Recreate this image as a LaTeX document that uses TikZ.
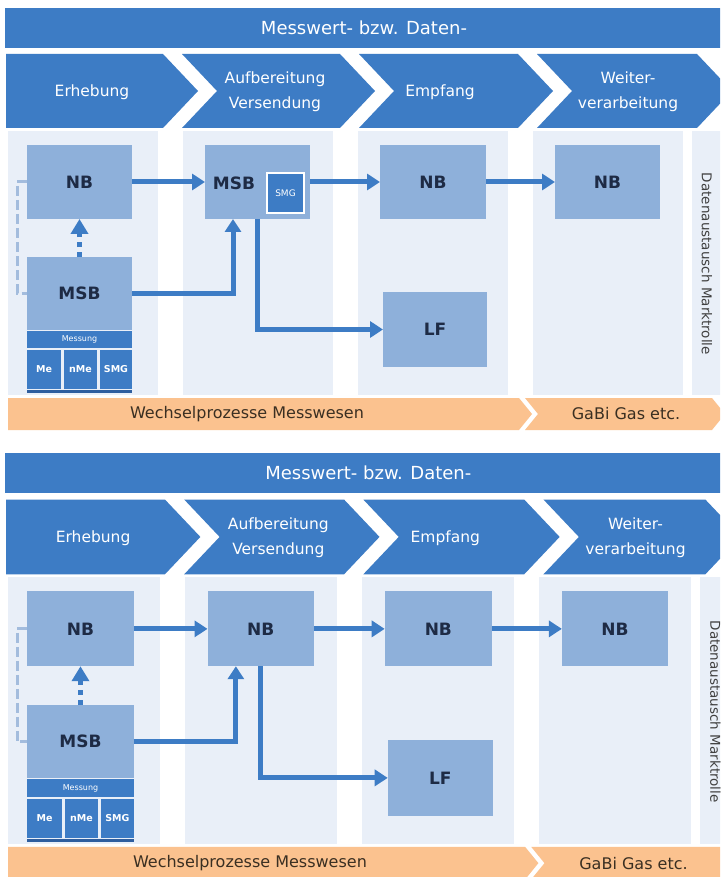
\documentclass[tikz,border=0pt]{standalone}
\usepackage{fontspec}
\setmainfont{DejaVu Sans}
\usetikzlibrary{arrows.meta,fit,calc}
\definecolor{hdrblue}{HTML}{3D7CC5}
\definecolor{colbg}{HTML}{E9EFF8}
\definecolor{boxblue}{HTML}{8EB0DA}
\definecolor{dashblue}{HTML}{A3BCDD}
\definecolor{orangebar}{HTML}{FBC28F}
\definecolor{navytext}{HTML}{1E2B45}
\definecolor{browntext}{HTML}{3A2F22}
\definecolor{linenavy}{HTML}{2F5E9E}
\tikzset{
  hdrtext/.style={text=white, font=\fontsize{18}{20}\selectfont, inner sep=0pt},
  chevtext/.style={text=white, font=\fontsize{15.5}{25}\selectfont, align=center, inner sep=0pt},
  orangetext/.style={text=browntext, font=\fontsize{16}{18}\selectfont, inner sep=0pt},
  sidetext/.style={text=black!75, font=\fontsize{13.5}{15}\selectfont, rotate=-90, inner sep=0pt},
  rolebox/.style={fill=boxblue, inner sep=0pt, outer sep=0pt},
  rolelabel/.style={text=navytext, font=\bfseries\fontsize{17}{19}\selectfont, inner sep=0pt},
  darkbox/.style={fill=hdrblue, inner sep=0pt, outer sep=0pt},
  darklabel/.style={text=white, font=\bfseries\fontsize{9.5}{11}\selectfont, inner sep=0pt},
  smallbox/.style={fill=hdrblue, draw=white, line width=2pt, inner sep=0pt},
  smalllabel/.style={text=white, font=\fontsize{9}{10}\selectfont, inner sep=0pt},
  flow/.style={draw=hdrblue, line width=5pt, -{Triangle[length=13pt,width=16pt]}},
  dotflow/.style={draw=hdrblue, line width=5pt, dash pattern=on 5pt off 5pt, -{Triangle[length=15pt,width=17pt]}},
  bracket/.style={draw=dashblue, line width=3pt, dash pattern=on 10pt off 4pt},
}
\newcommand\drawpanel[1]{%
  % header bar
  \fill[hdrblue] (5,8) rectangle (725,48);
  \node[hdrtext] (#1title) at (364,28) {Messwert- bzw. Daten-};
  % chevrons
  \fill[hdrblue] (6,54) -- (163,54) -- (198,91) -- (163,128) -- (6,128) -- cycle;
  \fill[hdrblue] (182,54) -- (340,54) -- (375,91) -- (340,128) -- (182,128) -- (217,91) -- cycle;
  \fill[hdrblue] (359,54) -- (518,54) -- (553,91) -- (518,128) -- (359,128) -- (394,91) -- cycle;
  \fill[hdrblue] (537,54) -- (697,54) -- (732,91) -- (697,128) -- (537,128) -- (572,91) -- cycle;
  \node[chevtext] (#1c1) at (92,92) {Erhebung};
  \node[chevtext] (#1c2) at (275,92) {Aufbereitung\\Versendung};
  \node[chevtext] (#1c3) at (440,92) {Empfang};
  \node[chevtext] (#1c4) at (628,92) {Weiter-\\verarbeitung};
  % column backgrounds
  \fill[colbg] (8,131) rectangle (158,395);
  \fill[colbg] (183,131) rectangle (333,395);
  \fill[colbg] (358,131) rectangle (508,395);
  \fill[colbg] (533,131) rectangle (683,395);
  \fill[colbg] (692,131) rectangle (725,395);
  \node[sidetext] (#1side) at (707,264) {Datenaustausch Marktrolle};
  % orange bar
  \fill[orangebar] (8,398) -- (519,398) -- (532,414) -- (519,430) -- (8,430) -- cycle;
  \fill[orangebar] (525,398) -- (712,398) -- (725,414) -- (712,430) -- (525,430) -- (538,414) -- cycle;
  \node[orangetext] (#1o1) at (247,414) {Wechselprozesse Messwesen};
  \node[orangetext] (#1o2) at (626,414) {GaBi Gas etc.};
  % column 1
  \node[rolebox, fit={(27,145) (132,219)}, label={[rolelabel]center:NB}] (#1nb1) {};
  \node[rolebox, fit={(27,257) (132,330)}, label={[rolelabel]center:MSB}] (#1msb1) {};
  \node[darkbox, fit={(27,331) (132,348)}, label={[darklabel, font=\fontsize{8}{9}\selectfont]center:Messung}] (#1mess) {};
  \node[darkbox, fit={(27,350) (61,389)}, label={[darklabel]center:Me}] (#1me) {};
  \node[darkbox, fit={(64,350) (97,389)}, label={[darklabel]center:nMe}] (#1nme) {};
  \node[darkbox, fit={(100,350) (132,389)}, label={[darklabel]center:SMG}] (#1smgm) {};
  \node[fill=linenavy, inner sep=0pt, fit={(27,390) (132,393)}] (#1base) {};
  % columns 2-4
  \node[rolebox, fit={(205,145) (310,219)}] (#1box2) {};
  \node[rolebox, fit={(380,145) (486,219)}, label={[rolelabel]center:NB}] (#1nb3) {};
  \node[rolebox, fit={(555,145) (660,219)}, label={[rolelabel]center:NB}] (#1nb4) {};
  \node[rolebox, fit={(383,292) (487,367)}, label={[rolelabel]center:LF}] (#1lf) {};
  % connectors
  \draw[bracket] (#1nb1.west) -- ++(-10,0) |- (#1msb1.west);
  \draw[dotflow] (#1msb1.north) -- (#1nb1.south);
  \draw[flow] (#1nb1.east) -- (#1box2.west);
  \draw[flow] (#1msb1.east) -| ([xshift=28pt]#1box2.south west);
  \draw[flow] (#1box2.south) |- (#1lf.west);
  \draw[flow] (#1box2.east) -- (#1nb3.west);
  \draw[flow] (#1nb3.east) -- (#1nb4.west);
}
\begin{document}
\begin{tikzpicture}[x=1pt,y=-1pt]
  \useasboundingbox (0,0) rectangle (720,877);
  \clip (0,0) rectangle (720,877);
  \fill[white] (0,0) rectangle (720,877);
  % upper panel
  \begin{scope}
    \drawpanel{a}
    \node[rolelabel] (amsb2) at (234,183) {MSB};
    \node[smallbox, fit={(267,173) (304,213)}, label={[smalllabel]center:SMG}] (asmg2) {};
  \end{scope}
  % lower panel
  \begin{scope}[shift={(0,445)}, xscale=1.012, yscale=1.01]
    \drawpanel{b}
    \node[rolelabel] (bnb2) at (bbox2.center) {NB};
  \end{scope}
\end{tikzpicture}
\end{document}
